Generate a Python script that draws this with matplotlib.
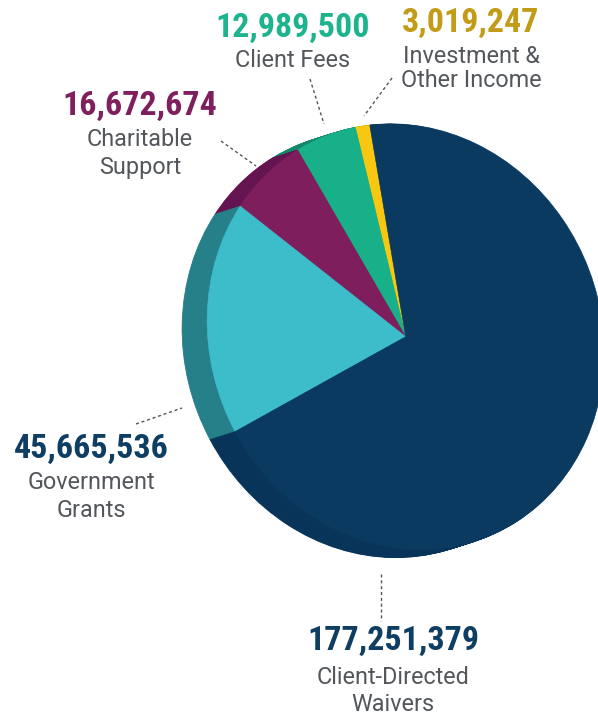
import numpy as np
import matplotlib
matplotlib.use("Agg")
import matplotlib.pyplot as plt
from matplotlib import font_manager as fm
from matplotlib.transforms import Affine2D

# ---------------- data ----------------
categories = ["Investment & Other Income", "Client Fees", "Charitable Support",
              "Government Grants", "Client-Directed Waivers"]
values = [3019247, 12989500, 16672674, 45665536, 177251379]
label_lines = [["Investment &", "Other Income"], ["Client Fees"],
               ["Charitable", "Support"], ["Government", "Grants"],
               ["Client-Directed", "Waivers"]]

# ---------------- style ----------------
face_colors = ["#f7c80f", "#17b088", "#7e1e5c", "#3dbdca", "#0b3a60"]
side_colors = ["#c9a20c", "#12876a", "#641450", "#25808a", "#08345a"]
text_colors = ["#c29b17", "#1db48d", "#7f1f5d", "#0f3e63", "#0f3e63"]
label_gray = "#53575b"

# label anchors (pixel coords: x centre, number baseline, first-line baseline, line step)
label_pos = [(471, 32, 63, 24), (293, 37, 67, 24), (140, 115, 146, 28),
             (91, 458, 489, 28), (393, 650, 684, 27)]
leaders = [((392, 78), (364, 116)), ((310, 79), (324, 124)),
           ((221, 141), (256, 166)), ((136, 424), (182, 408)),
           ((381, 574), (381, 621))]


def pick_condensed_bold():
    prefs = ["roboto condensed", "open sans", "noto sans", "liberation sans narrow",
             "dejavu sans", "lato", "inter"]
    wmap = {"bold": 700, "semibold": 600, "demibold": 600, "heavy": 800,
            "black": 900, "extra bold": 800, "ultrabold": 800}
    found = []
    for f in fm.fontManager.ttflist:
        w = f.weight
        if isinstance(w, str):
            w = wmap.get(w.lower(), 400)
        fn = f.fname.lower()
        cond = (str(f.stretch) in ("condensed", "semi-condensed", "extra-condensed",
                                   "ultra-condensed")
                or "condensed" in fn or "narrow" in fn)
        if cond and 600 <= w <= 800 and "italic" not in fn and "oblique" not in fn:
            found.append(f)
    for p in prefs:
        for f in found:
            if f.name.lower().startswith(p):
                return fm.FontProperties(fname=f.fname), True
    if found:
        return fm.FontProperties(fname=found[0].fname), True
    return fm.FontProperties(family="Roboto", weight="bold"), False


num_fp, is_cond = pick_condensed_bold()
lab_fp = fm.FontProperties(family=["Roboto", "DejaVu Sans"], weight="normal")

fig = plt.figure(figsize=(5.98, 7.17), dpi=100)
ax = fig.add_axes([0, 0, 1, 1])

# light face: affine image of the unit pie (perspective ellipse)
A, B, C = 2.55e-5, 3.57e-6, 2.219e-5
Q = np.array([[A, B / 2], [B / 2, C]])
ev, evec = np.linalg.eigh(Q)
M = evec @ np.diag(1 / np.sqrt(ev)) @ evec.T
tip = (405.7, 336.7)
shift = (-25.0, 8.0)
start = 98.2


def face_transform(ox, oy):
    mat = np.array([[M[0, 0], M[0, 1], tip[0] + ox],
                    [-M[1, 0], -M[1, 1], tip[1] + oy],
                    [0, 0, 1]])
    return Affine2D(mat) + ax.transData


# extruded side
for t in np.linspace(1.0, 0.04, 25):
    wedges, _ = ax.pie(values, colors=side_colors, startangle=start,
                       counterclock=True, radius=1, center=(0, 0),
                       wedgeprops=dict(linewidth=0.6, edgecolor=None))
    tr = face_transform(shift[0] * t, shift[1] * t)
    for w, c in zip(wedges, side_colors):
        w.set_transform(tr)
        w.set_edgecolor(c)

# top face
wedges, _ = ax.pie(values, colors=face_colors, startangle=start,
                   counterclock=True, radius=1, center=(0, 0),
                   wedgeprops=dict(linewidth=0.4))
tr = face_transform(0, 0)
for w, c in zip(wedges, face_colors):
    w.set_transform(tr)
    w.set_edgecolor(c)

# leaders
for (p0, p1) in leaders:
    ax.plot([p0[0], p1[0]], [p0[1], p1[1]], color="#555555", lw=1.0,
            linestyle=(0, (2.2, 2.0)))

num_size = 24.5 if is_cond else 21
for v, lines, (x, yb, y1, step), col in zip(values, label_lines, label_pos, text_colors):
    ax.text(x, yb, f"{v:,}", ha="center", va="baseline", color=col,
            fontproperties=num_fp, fontsize=num_size)
    for i, s in enumerate(lines):
        ax.text(x, y1 + i * step, s, ha="center", va="baseline", color=label_gray,
                fontproperties=lab_fp, fontsize=16.8)

ax.set_xlim(0, 598)
ax.set_ylim(717, 0)
ax.set_aspect("auto")
ax.axis("off")
fig.savefig("out.png", dpi=100, facecolor="white")
